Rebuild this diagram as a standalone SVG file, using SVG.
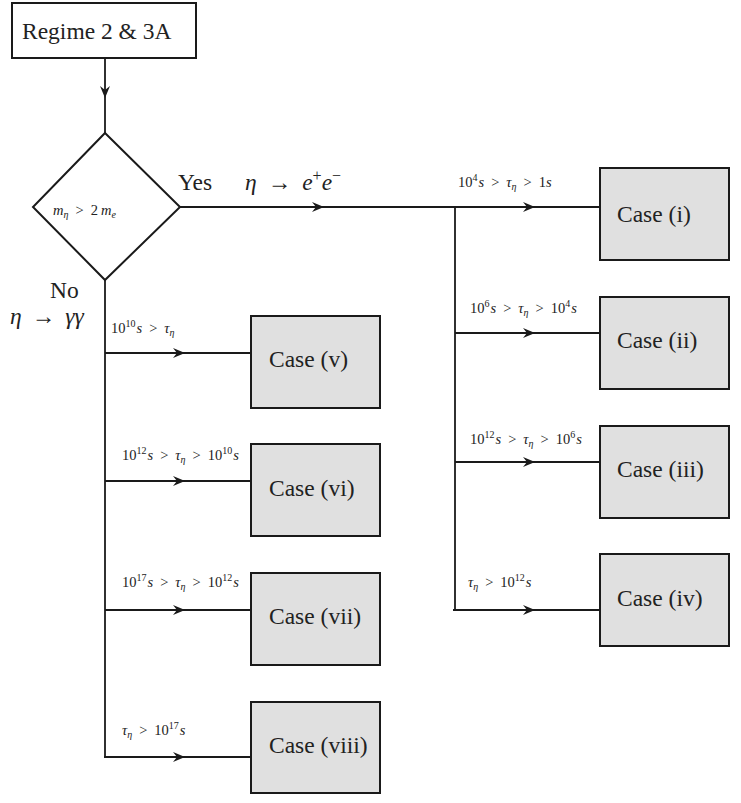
<svg xmlns="http://www.w3.org/2000/svg" width="741" height="803" viewBox="0 0 741 803">
<style>
.ln{fill:none;stroke:#1a1a1a;stroke-width:1.8;marker-mid:url(#ah)}
.pl{fill:none;stroke:#1a1a1a;stroke-width:1.8}
.box{fill:#e0e0e0;stroke:#1a1a1a;stroke-width:2}
.wbox{fill:#fff;stroke:#1a1a1a;stroke-width:2}
.t{font-family:"Liberation Serif","DejaVu Serif",serif;fill:#222}
.big{font-size:23.5px}
.mid{font-size:23.5px}
.sm{font-size:14.5px;font-style:italic}
.up{font-style:normal}
.sc{font-size:10px;font-style:normal}
.sb{font-size:10px}
</style>
<defs>
<marker id="ah" markerUnits="userSpaceOnUse" markerWidth="16" markerHeight="12" viewBox="-13 -6 16 12" refX="0" refY="0" orient="auto">
<path d="M1,0 L-11,-5 L-7,0 L-11,5 Z" fill="#1a1a1a"/>
</marker>
</defs>
<g id="connectors">
<path class="ln" d="M105,58 L105,97 L105,133"/>
<path class="ln" d="M180,207 L323,207 L456,207"/>
<path class="pl" d="M455,206 L455,611"/>
<path class="ln" d="M455,207 L534,207 L600,207"/>
<path class="ln" d="M455,333 L534,333 L600,333"/>
<path class="ln" d="M455,462 L534,462 L600,462"/>
<path class="ln" d="M453,610 L534,610 L600,610"/>
<path class="pl" d="M105,279 L105,758"/>
<path class="ln" d="M105,353 L184,353 L251,353"/>
<path class="ln" d="M105,481 L184,481 L251,481"/>
<path class="ln" d="M105,610 L184,610 L251,610"/>
<path class="ln" d="M104,757 L184,757 L251,757"/>
</g>
<g id="regime">
<rect class="wbox" x="12" y="3" width="184" height="55"/>
<text class="t big" x="22" y="39">Regime 2 &amp; 3A</text>
</g>
<g id="decision">
<polygon class="wbox" points="105,133 180,207 105,280 33,207"/>
<text class="t sm" x="53" y="215" font-size="15">m<tspan class="sb" dy="3">η</tspan><tspan dy="-3" dx="7" class="up">&gt;</tspan><tspan class="up" dx="7">2</tspan><tspan dx="3">m</tspan><tspan class="sb" dy="3">e</tspan></text>
</g>
<g id="labels">
<text class="t big" x="178" y="190">Yes</text>
<text class="t big" x="245" y="190"><tspan font-style="italic">η</tspan><tspan dx="11">→</tspan><tspan font-style="italic" dx="11">e</tspan><tspan font-size="16" dy="-9">+</tspan><tspan font-style="italic" dy="9">e</tspan><tspan font-size="16" dy="-9">−</tspan></text>
<text class="t big" x="50" y="298" font-size="22">No</text>
<text class="t big" x="10" y="324" font-size="22"><tspan font-style="italic">η</tspan><tspan dx="10">→</tspan><tspan font-style="italic" dx="10">γγ</tspan></text>
<text class="t sm" x="458" y="187"><tspan class="up">10</tspan><tspan class="sc" dy="-6">4</tspan><tspan dy="6" dx="1">s</tspan><tspan class="up" dx="7">&gt;</tspan><tspan dx="7">τ</tspan><tspan class="sb" dy="3">η</tspan><tspan class="up" dy="-3" dx="7">&gt;</tspan><tspan class="up" dx="7">1</tspan>s</text>
<text class="t sm" x="470" y="313"><tspan class="up">10</tspan><tspan class="sc" dy="-6">6</tspan><tspan dy="6" dx="1">s</tspan><tspan class="up" dx="7">&gt;</tspan><tspan dx="7">τ</tspan><tspan class="sb" dy="3">η</tspan><tspan class="up" dy="-3" dx="7">&gt;</tspan><tspan class="up" dx="7">10</tspan><tspan class="sc" dy="-6">4</tspan><tspan dy="6" dx="1">s</tspan></text>
<text class="t sm" x="470" y="444"><tspan class="up">10</tspan><tspan class="sc" dy="-6">12</tspan><tspan dy="6" dx="1">s</tspan><tspan class="up" dx="7">&gt;</tspan><tspan dx="7">τ</tspan><tspan class="sb" dy="3">η</tspan><tspan class="up" dy="-3" dx="7">&gt;</tspan><tspan class="up" dx="7">10</tspan><tspan class="sc" dy="-6">6</tspan><tspan dy="6" dx="1">s</tspan></text>
<text class="t sm" x="468" y="587">τ<tspan class="sb" dy="3">η</tspan><tspan class="up" dy="-3" dx="7">&gt;</tspan><tspan class="up" dx="7">10</tspan><tspan class="sc" dy="-6">12</tspan><tspan dy="6" dx="1">s</tspan></text>
<text class="t sm" x="111" y="333"><tspan class="up">10</tspan><tspan class="sc" dy="-6">10</tspan><tspan dy="6" dx="1">s</tspan><tspan class="up" dx="7">&gt;</tspan><tspan dx="7">τ</tspan><tspan class="sb" dy="3">η</tspan></text>
<text class="t sm" x="122" y="460"><tspan class="up">10</tspan><tspan class="sc" dy="-6">12</tspan><tspan dy="6" dx="1">s</tspan><tspan class="up" dx="7">&gt;</tspan><tspan dx="7">τ</tspan><tspan class="sb" dy="3">η</tspan><tspan class="up" dy="-3" dx="7">&gt;</tspan><tspan class="up" dx="7">10</tspan><tspan class="sc" dy="-6">10</tspan><tspan dy="6" dx="1">s</tspan></text>
<text class="t sm" x="122" y="587"><tspan class="up">10</tspan><tspan class="sc" dy="-6">17</tspan><tspan dy="6" dx="1">s</tspan><tspan class="up" dx="7">&gt;</tspan><tspan dx="7">τ</tspan><tspan class="sb" dy="3">η</tspan><tspan class="up" dy="-3" dx="7">&gt;</tspan><tspan class="up" dx="7">10</tspan><tspan class="sc" dy="-6">12</tspan><tspan dy="6" dx="1">s</tspan></text>
<text class="t sm" x="122" y="735">τ<tspan class="sb" dy="3">η</tspan><tspan class="up" dy="-3" dx="7">&gt;</tspan><tspan class="up" dx="7">10</tspan><tspan class="sc" dy="-6">17</tspan><tspan dy="6" dx="1">s</tspan></text>
</g>
<g id="case-i"><rect class="box" x="600" y="168" width="129" height="92"/><text class="t mid" x="617" y="222">Case (i)</text></g>
<g id="case-ii"><rect class="box" x="600" y="297" width="129" height="92"/><text class="t mid" x="617" y="348">Case (ii)</text></g>
<g id="case-iii"><rect class="box" x="600" y="426" width="129" height="92"/><text class="t mid" x="617" y="477">Case (iii)</text></g>
<g id="case-iv"><rect class="box" x="600" y="554" width="129" height="92"/><text class="t mid" x="617" y="606">Case (iv)</text></g>
<g id="case-v"><rect class="box" x="251" y="316" width="129" height="92"/><text class="t mid" x="269" y="367">Case (v)</text></g>
<g id="case-vi"><rect class="box" x="251" y="444" width="129" height="92"/><text class="t mid" x="269" y="496">Case (vi)</text></g>
<g id="case-vii"><rect class="box" x="251" y="573" width="129" height="92"/><text class="t mid" x="269" y="624">Case (vii)</text></g>
<g id="case-viii"><rect class="box" x="251" y="702" width="129" height="91"/><text class="t mid" x="269" y="753">Case (viii)</text></g>
</svg>
